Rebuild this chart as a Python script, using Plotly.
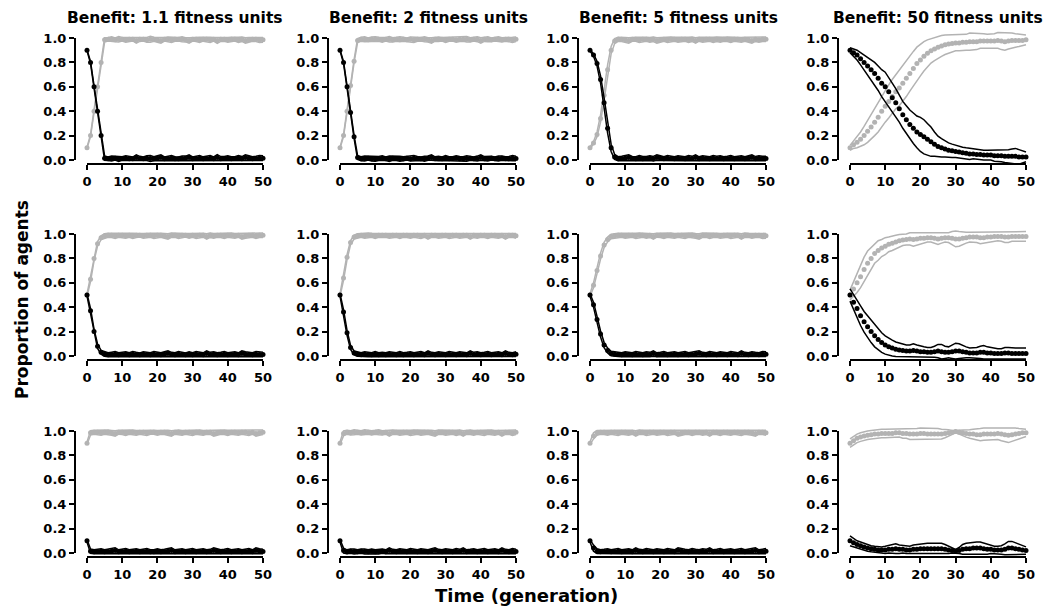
import plotly.graph_objects as go

# ---------------- data ----------------
t = list(range(51))
benefit_labels = ["1.1", "2", "5", "50"]
x_ticks = [0, 10, 20, 30, 40, 50]
y_ticks = [0.0, 0.2, 0.4, 0.6, 0.8, 1.0]
y_ticktext = ["0.0", "0.2", "0.4", "0.6", "0.8", "1.0"]

# Row 1: start 10% cooperators
coop_r1c1 = [0.10,0.20,0.40,0.60,0.80,0.985,0.99,0.99,0.985,0.99,
             0.99,0.985,0.99,0.99,0.98,0.99,0.99,0.985,0.99,0.99,
             0.985,0.98,0.99,0.99,0.985,0.99,0.99,0.99,0.985,0.98,
             0.99,0.99,0.985,0.99,0.99,0.985,0.99,0.98,0.99,0.99,
             0.985,0.99,0.99,0.985,0.99,0.98,0.985,0.99,0.99,0.985,
             0.985]
def_r1c1 = [0.90,0.80,0.60,0.40,0.20,0.015,0.01,0.012,0.015,0.01,
            0.012,0.015,0.01,0.01,0.02,0.012,0.01,0.015,0.012,0.01,
            0.015,0.02,0.01,0.012,0.015,0.01,0.01,0.012,0.015,0.02,
            0.01,0.012,0.015,0.01,0.012,0.015,0.01,0.02,0.01,0.012,
            0.015,0.01,0.012,0.015,0.01,0.02,0.015,0.01,0.012,0.015,
            0.015]
sd_r1c1 = [0.005,0.008,0.01,0.012,0.012,0.018,0.015,0.02,0.016,0.022,
           0.015,0.02,0.017,0.014,0.022,0.018,0.015,0.02,0.024,0.016,
           0.02,0.022,0.015,0.018,0.021,0.016,0.014,0.02,0.017,0.023,
           0.015,0.019,0.022,0.016,0.018,0.021,0.015,0.024,0.018,0.016,
           0.02,0.017,0.015,0.021,0.018,0.023,0.02,0.016,0.018,0.021,
           0.02]

coop_r1c2 = [0.10,0.20,0.40,0.61,0.81,0.98,0.99,0.99,0.985,0.99,
             0.99,0.99,0.985,0.99,0.99,0.985,0.99,0.99,0.99,0.985,
             0.99,0.985,0.99,0.99,0.99,0.985,0.98,0.99,0.99,0.99,
             0.985,0.99,0.99,0.985,0.99,0.99,0.99,0.985,0.99,0.99,
             0.98,0.99,0.99,0.985,0.99,0.99,0.985,0.99,0.99,0.985,
             0.99]
def_r1c2 = [0.90,0.80,0.60,0.39,0.19,0.02,0.01,0.012,0.015,0.01,
            0.01,0.012,0.015,0.01,0.01,0.015,0.012,0.01,0.01,0.015,
            0.01,0.015,0.012,0.01,0.01,0.015,0.02,0.01,0.012,0.01,
            0.015,0.01,0.012,0.015,0.01,0.01,0.012,0.015,0.01,0.012,
            0.02,0.01,0.012,0.015,0.01,0.012,0.015,0.01,0.01,0.015,
            0.012]
sd_r1c2 = [0.005,0.008,0.01,0.012,0.012,0.016,0.017,0.02,0.015,0.018,
           0.021,0.016,0.019,0.015,0.022,0.018,0.016,0.02,0.017,0.015,
           0.019,0.022,0.017,0.015,0.02,0.018,0.023,0.016,0.019,0.015,
           0.021,0.017,0.015,0.02,0.018,0.016,0.022,0.017,0.015,0.02,
           0.023,0.018,0.02,0.016,0.015,0.021,0.018,0.016,0.019,0.021,
           0.018]

coop_r1c3 = [0.10,0.14,0.21,0.34,0.53,0.74,0.90,0.975,0.99,0.99,
             0.985,0.98,0.99,0.99,0.985,0.99,0.99,0.985,0.99,0.98,
             0.985,0.99,0.985,0.99,0.99,0.985,0.99,0.99,0.985,0.99,
             0.98,0.99,0.985,0.99,0.99,0.985,0.99,0.985,0.99,0.99,
             0.985,0.99,0.99,0.985,0.99,0.985,0.98,0.99,0.985,0.99,
             0.99]
def_r1c3 = [0.90,0.86,0.79,0.66,0.47,0.26,0.10,0.025,0.01,0.012,
            0.015,0.02,0.012,0.01,0.015,0.01,0.012,0.015,0.01,0.02,
            0.015,0.01,0.015,0.012,0.01,0.015,0.012,0.01,0.015,0.012,
            0.02,0.01,0.015,0.012,0.01,0.015,0.012,0.015,0.01,0.012,
            0.015,0.01,0.012,0.015,0.01,0.015,0.02,0.01,0.015,0.012,
            0.012]
sd_r1c3 = [0.005,0.01,0.02,0.03,0.04,0.04,0.03,0.02,0.017,0.019,
           0.02,0.022,0.017,0.016,0.021,0.018,0.016,0.02,0.019,0.023,
           0.02,0.016,0.021,0.018,0.016,0.02,0.019,0.016,0.021,0.018,
           0.023,0.016,0.02,0.018,0.016,0.021,0.019,0.02,0.016,0.018,
           0.021,0.016,0.018,0.02,0.016,0.022,0.023,0.018,0.02,0.019,
           0.018]

coop_r1c4 = [0.10,0.125,0.145,0.17,0.20,0.235,0.27,0.31,0.35,0.40,
             0.44,0.48,0.52,0.56,0.59,0.63,0.67,0.71,0.75,0.79,
             0.82,0.85,0.875,0.895,0.91,0.925,0.935,0.945,0.95,0.955,
             0.96,0.96,0.965,0.965,0.97,0.97,0.97,0.975,0.975,0.975,
             0.975,0.975,0.98,0.975,0.97,0.975,0.98,0.98,0.98,0.98,
             0.985]
coop_sd_r1c4 = [0.02,0.03,0.045,0.06,0.075,0.09,0.10,0.11,0.12,0.125,
                0.13,0.135,0.14,0.14,0.145,0.15,0.15,0.145,0.14,0.135,
                0.13,0.12,0.11,0.10,0.095,0.09,0.085,0.08,0.075,0.07,
                0.065,0.065,0.065,0.065,0.07,0.07,0.065,0.06,0.06,0.055,
                0.055,0.06,0.065,0.07,0.07,0.065,0.06,0.055,0.05,0.045,
                0.04]
def_r1c4 = [0.90,0.88,0.86,0.83,0.80,0.77,0.74,0.71,0.67,0.63,
            0.60,0.56,0.51,0.47,0.42,0.37,0.33,0.29,0.26,0.23,
            0.21,0.19,0.17,0.15,0.13,0.11,0.10,0.09,0.08,0.075,
            0.07,0.065,0.06,0.055,0.05,0.05,0.045,0.045,0.04,0.04,
            0.04,0.035,0.035,0.035,0.03,0.03,0.03,0.03,0.025,0.025,
            0.025]
def_sd_r1c4 = [0.02,0.03,0.04,0.05,0.06,0.07,0.08,0.09,0.10,0.11,
               0.12,0.12,0.12,0.115,0.11,0.11,0.115,0.12,0.125,0.13,
               0.14,0.14,0.13,0.12,0.10,0.085,0.075,0.065,0.06,0.055,
               0.05,0.05,0.045,0.045,0.045,0.04,0.04,0.04,0.04,0.04,
               0.04,0.045,0.045,0.05,0.05,0.055,0.06,0.065,0.06,0.05,
               0.04]

# Row 2: start 50% cooperators
coop_r2c1 = [0.50,0.63,0.80,0.92,0.97,0.985,0.99,0.99,0.985,0.99,
             0.99,0.985,0.99,0.985,0.99,0.99,0.985,0.99,0.99,0.985,
             0.99,0.99,0.985,0.98,0.99,0.99,0.985,0.99,0.99,0.985,
             0.99,0.985,0.99,0.99,0.98,0.99,0.985,0.99,0.99,0.985,
             0.99,0.99,0.985,0.99,0.98,0.985,0.99,0.99,0.985,0.99,
             0.99]
def_r2c1 = [0.50,0.37,0.20,0.08,0.03,0.015,0.01,0.012,0.015,0.01,
            0.012,0.015,0.01,0.015,0.012,0.01,0.015,0.012,0.01,0.015,
            0.012,0.01,0.015,0.02,0.012,0.01,0.015,0.012,0.01,0.015,
            0.01,0.015,0.012,0.01,0.02,0.012,0.015,0.01,0.012,0.015,
            0.01,0.012,0.015,0.01,0.02,0.015,0.012,0.01,0.015,0.012,
            0.012]
sd_r2c1 = [0.01,0.02,0.02,0.018,0.016,0.018,0.016,0.019,0.021,0.016,
           0.018,0.02,0.016,0.021,0.018,0.015,0.02,0.018,0.016,0.021,
           0.018,0.016,0.02,0.023,0.018,0.016,0.021,0.018,0.015,0.02,
           0.016,0.021,0.018,0.016,0.023,0.018,0.02,0.016,0.018,0.021,
           0.016,0.018,0.02,0.016,0.023,0.02,0.018,0.016,0.021,0.018,
           0.018]

coop_r2c2 = [0.50,0.64,0.81,0.93,0.975,0.985,0.99,0.985,0.99,0.99,
             0.985,0.99,0.99,0.99,0.985,0.99,0.99,0.985,0.99,0.99,
             0.985,0.99,0.99,0.985,0.99,0.98,0.99,0.99,0.985,0.99,
             0.99,0.985,0.99,0.99,0.985,0.99,0.99,0.98,0.99,0.985,
             0.99,0.99,0.985,0.99,0.99,0.985,0.99,0.98,0.99,0.99,
             0.985]
def_r2c2 = [0.50,0.36,0.19,0.07,0.025,0.014,0.01,0.015,0.012,0.01,
            0.015,0.01,0.012,0.01,0.015,0.012,0.01,0.015,0.01,0.012,
            0.015,0.01,0.012,0.015,0.01,0.02,0.012,0.01,0.015,0.012,
            0.01,0.015,0.012,0.01,0.015,0.012,0.01,0.02,0.012,0.015,
            0.01,0.012,0.015,0.01,0.012,0.015,0.01,0.02,0.012,0.01,
            0.015]
sd_r2c2 = [0.01,0.02,0.02,0.017,0.016,0.017,0.016,0.02,0.018,0.016,
           0.021,0.016,0.018,0.016,0.02,0.018,0.016,0.021,0.016,0.018,
           0.02,0.016,0.018,0.021,0.016,0.023,0.018,0.016,0.02,0.018,
           0.016,0.021,0.018,0.016,0.02,0.018,0.016,0.023,0.018,0.02,
           0.016,0.018,0.021,0.016,0.018,0.02,0.016,0.023,0.018,0.016,
           0.02]

coop_r2c3 = [0.50,0.58,0.70,0.82,0.91,0.955,0.98,0.985,0.99,0.99,
             0.985,0.99,0.99,0.985,0.99,0.99,0.985,0.99,0.98,0.99,
             0.99,0.985,0.99,0.99,0.985,0.99,0.99,0.985,0.99,0.99,
             0.985,0.98,0.99,0.99,0.985,0.99,0.99,0.985,0.99,0.99,
             0.985,0.99,0.99,0.98,0.99,0.99,0.985,0.99,0.99,0.985,
             0.985]
def_r2c3 = [0.50,0.42,0.30,0.18,0.09,0.045,0.02,0.015,0.012,0.01,
            0.015,0.012,0.01,0.015,0.012,0.01,0.015,0.012,0.02,0.01,
            0.012,0.015,0.01,0.012,0.015,0.01,0.012,0.015,0.01,0.012,
            0.015,0.02,0.012,0.01,0.015,0.012,0.01,0.015,0.012,0.01,
            0.015,0.012,0.01,0.02,0.012,0.01,0.015,0.012,0.01,0.015,
            0.015]
sd_r2c3 = [0.01,0.02,0.025,0.025,0.022,0.02,0.018,0.018,0.017,0.016,
           0.02,0.018,0.016,0.021,0.018,0.016,0.02,0.018,0.022,0.016,
           0.018,0.021,0.016,0.018,0.02,0.016,0.018,0.021,0.016,0.018,
           0.02,0.023,0.018,0.016,0.021,0.018,0.016,0.02,0.018,0.016,
           0.021,0.018,0.016,0.023,0.018,0.016,0.02,0.018,0.016,0.021,
           0.02]

coop_r2c4 = [0.50,0.55,0.60,0.65,0.71,0.76,0.80,0.84,0.865,0.885,
             0.90,0.915,0.925,0.935,0.945,0.95,0.955,0.96,0.955,0.96,
             0.965,0.965,0.97,0.97,0.965,0.96,0.965,0.97,0.97,0.965,
             0.96,0.96,0.965,0.97,0.975,0.975,0.975,0.97,0.97,0.975,
             0.975,0.98,0.98,0.98,0.975,0.975,0.98,0.98,0.98,0.98,
             0.98]
coop_sd_r2c4 = [0.04,0.06,0.08,0.09,0.10,0.10,0.09,0.08,0.08,0.07,
                0.07,0.06,0.06,0.055,0.05,0.045,0.045,0.05,0.055,0.05,
                0.045,0.04,0.035,0.035,0.04,0.045,0.04,0.035,0.04,0.055,
                0.065,0.06,0.05,0.045,0.04,0.04,0.045,0.05,0.045,0.04,
                0.04,0.035,0.035,0.04,0.045,0.045,0.04,0.04,0.04,0.04,
                0.04]
def_r2c4 = [0.50,0.44,0.39,0.33,0.28,0.24,0.20,0.165,0.135,0.11,
            0.09,0.075,0.065,0.055,0.05,0.045,0.04,0.04,0.045,0.04,
            0.035,0.035,0.03,0.03,0.035,0.04,0.035,0.03,0.03,0.035,
            0.04,0.04,0.035,0.03,0.025,0.025,0.025,0.03,0.03,0.025,
            0.025,0.02,0.02,0.02,0.025,0.025,0.02,0.02,0.02,0.02,
            0.02]
def_sd_r2c4 = [0.05,0.06,0.07,0.08,0.085,0.09,0.09,0.09,0.085,0.08,
               0.075,0.07,0.065,0.06,0.055,0.05,0.05,0.05,0.055,0.05,
               0.045,0.04,0.04,0.04,0.045,0.055,0.06,0.05,0.045,0.055,
               0.065,0.06,0.05,0.045,0.04,0.04,0.045,0.05,0.055,0.05,
               0.045,0.04,0.04,0.04,0.045,0.045,0.045,0.045,0.045,0.045,
               0.045]

# Row 3: start 90% cooperators
coop_r3c1 = [0.90,0.985,0.99,0.99,0.985,0.99,0.99,0.985,0.98,0.99,
             0.99,0.985,0.99,0.99,0.985,0.99,0.99,0.985,0.99,0.99,
             0.985,0.99,0.99,0.985,0.98,0.99,0.99,0.985,0.99,0.99,
             0.985,0.99,0.99,0.985,0.99,0.99,0.98,0.985,0.99,0.99,
             0.985,0.99,0.99,0.985,0.99,0.99,0.985,0.99,0.98,0.985,
             0.99]
def_r3c1 = [0.10,0.015,0.01,0.012,0.015,0.01,0.012,0.015,0.02,0.01,
            0.012,0.015,0.01,0.012,0.015,0.01,0.012,0.015,0.01,0.01,
            0.015,0.01,0.012,0.015,0.02,0.01,0.012,0.015,0.01,0.012,
            0.015,0.01,0.012,0.015,0.01,0.012,0.02,0.015,0.01,0.012,
            0.015,0.01,0.012,0.015,0.01,0.012,0.015,0.01,0.02,0.015,
            0.012]
sd_r3c1 = [0.01,0.018,0.016,0.018,0.02,0.016,0.018,0.02,0.022,0.016,
           0.018,0.021,0.016,0.018,0.02,0.016,0.018,0.021,0.016,0.016,
           0.02,0.016,0.018,0.021,0.023,0.016,0.018,0.02,0.016,0.018,
           0.021,0.016,0.018,0.02,0.016,0.018,0.023,0.02,0.016,0.018,
           0.021,0.016,0.018,0.02,0.016,0.018,0.021,0.016,0.023,0.02,
           0.018]

coop_r3c2 = [0.90,0.98,0.99,0.985,0.99,0.99,0.985,0.99,0.99,0.985,
             0.99,0.99,0.985,0.99,0.98,0.99,0.99,0.985,0.99,0.99,
             0.985,0.99,0.99,0.985,0.99,0.99,0.985,0.98,0.99,0.99,
             0.985,0.99,0.99,0.985,0.99,0.98,0.99,0.99,0.985,0.99,
             0.99,0.985,0.99,0.99,0.985,0.99,0.98,0.99,0.99,0.985,
             0.99]
def_r3c2 = [0.10,0.02,0.01,0.015,0.012,0.01,0.015,0.012,0.01,0.015,
            0.01,0.012,0.015,0.01,0.02,0.012,0.01,0.015,0.012,0.01,
            0.015,0.012,0.01,0.015,0.012,0.01,0.015,0.02,0.012,0.01,
            0.015,0.012,0.01,0.015,0.012,0.02,0.01,0.012,0.015,0.01,
            0.012,0.015,0.01,0.012,0.015,0.01,0.02,0.012,0.01,0.015,
            0.012]
sd_r3c2 = [0.01,0.02,0.016,0.018,0.02,0.016,0.018,0.021,0.016,0.018,
           0.016,0.02,0.018,0.016,0.023,0.018,0.016,0.02,0.018,0.016,
           0.021,0.018,0.016,0.02,0.018,0.016,0.021,0.023,0.018,0.016,
           0.02,0.018,0.016,0.021,0.018,0.023,0.016,0.018,0.02,0.016,
           0.018,0.021,0.016,0.018,0.02,0.016,0.023,0.018,0.016,0.021,
           0.018]

coop_r3c3 = [0.90,0.96,0.985,0.99,0.99,0.985,0.99,0.99,0.985,0.99,
             0.99,0.985,0.99,0.98,0.99,0.99,0.985,0.99,0.99,0.985,
             0.99,0.99,0.985,0.99,0.99,0.98,0.985,0.99,0.99,0.985,
             0.99,0.99,0.985,0.99,0.98,0.99,0.99,0.985,0.99,0.99,
             0.985,0.99,0.99,0.985,0.99,0.99,0.985,0.98,0.99,0.99,
             0.985]
def_r3c3 = [0.10,0.04,0.015,0.01,0.012,0.015,0.01,0.012,0.015,0.01,
            0.012,0.015,0.01,0.02,0.012,0.01,0.015,0.012,0.01,0.015,
            0.012,0.01,0.015,0.012,0.01,0.02,0.015,0.012,0.01,0.015,
            0.012,0.01,0.015,0.012,0.02,0.01,0.012,0.015,0.01,0.012,
            0.015,0.01,0.012,0.015,0.01,0.012,0.015,0.02,0.01,0.012,
            0.015]
sd_r3c3 = [0.01,0.025,0.02,0.016,0.018,0.02,0.016,0.018,0.021,0.016,
           0.018,0.02,0.016,0.023,0.018,0.016,0.021,0.018,0.016,0.02,
           0.018,0.016,0.021,0.018,0.016,0.023,0.02,0.018,0.016,0.021,
           0.018,0.016,0.02,0.018,0.023,0.016,0.018,0.021,0.016,0.018,
           0.02,0.016,0.018,0.021,0.016,0.018,0.02,0.023,0.016,0.018,
           0.021]

coop_r3c4 = [0.90,0.92,0.94,0.95,0.96,0.965,0.97,0.975,0.975,0.98,
             0.98,0.98,0.98,0.985,0.985,0.98,0.98,0.975,0.975,0.975,
             0.98,0.98,0.975,0.975,0.975,0.975,0.975,0.98,0.985,0.99,
             0.995,0.99,0.985,0.98,0.975,0.975,0.97,0.97,0.975,0.975,
             0.975,0.975,0.98,0.975,0.97,0.965,0.97,0.975,0.98,0.985,
             0.985]
coop_sd_r3c4 = [0.035,0.035,0.035,0.035,0.035,0.035,0.035,0.035,0.035,0.035,
                0.035,0.035,0.035,0.035,0.035,0.04,0.04,0.045,0.045,0.045,
                0.045,0.045,0.045,0.045,0.045,0.045,0.04,0.035,0.025,0.015,
                0.01,0.015,0.025,0.03,0.035,0.04,0.045,0.05,0.05,0.05,
                0.05,0.05,0.05,0.055,0.06,0.06,0.055,0.05,0.04,0.035,
                0.03]
def_r3c4 = [0.10,0.085,0.07,0.06,0.05,0.04,0.035,0.03,0.025,0.025,
            0.025,0.03,0.03,0.035,0.03,0.03,0.025,0.025,0.03,0.03,
            0.035,0.035,0.035,0.035,0.035,0.035,0.035,0.03,0.025,0.02,
            0.015,0.02,0.03,0.035,0.035,0.04,0.04,0.04,0.035,0.03,
            0.03,0.025,0.025,0.025,0.03,0.04,0.04,0.035,0.03,0.025,
            0.02]
def_sd_r3c4 = [0.04,0.035,0.03,0.03,0.03,0.025,0.025,0.025,0.025,0.025,
               0.03,0.03,0.035,0.04,0.035,0.03,0.03,0.03,0.035,0.04,
               0.04,0.045,0.045,0.045,0.045,0.045,0.045,0.04,0.03,0.02,
               0.015,0.025,0.04,0.045,0.05,0.05,0.05,0.05,0.045,0.04,
               0.035,0.03,0.03,0.035,0.045,0.055,0.055,0.05,0.04,0.035,
               0.03]

# (row, col, coop mean, coop sd, defector mean, defector sd)
panels = [
    (0, 0, coop_r1c1, sd_r1c1, def_r1c1, sd_r1c1),
    (0, 1, coop_r1c2, sd_r1c2, def_r1c2, sd_r1c2),
    (0, 2, coop_r1c3, sd_r1c3, def_r1c3, sd_r1c3),
    (0, 3, coop_r1c4, coop_sd_r1c4, def_r1c4, def_sd_r1c4),
    (1, 0, coop_r2c1, sd_r2c1, def_r2c1, sd_r2c1),
    (1, 1, coop_r2c2, sd_r2c2, def_r2c2, sd_r2c2),
    (1, 2, coop_r2c3, sd_r2c3, def_r2c3, sd_r2c3),
    (1, 3, coop_r2c4, coop_sd_r2c4, def_r2c4, def_sd_r2c4),
    (2, 0, coop_r3c1, sd_r3c1, def_r3c1, sd_r3c1),
    (2, 1, coop_r3c2, sd_r3c2, def_r3c2, sd_r3c2),
    (2, 2, coop_r3c3, sd_r3c3, def_r3c3, sd_r3c3),
    (2, 3, coop_r3c4, coop_sd_r3c4, def_r3c4, def_sd_r3c4),
]
for p in panels:
    for arr in p[2:]:
        assert len(arr) == 51, len(arr)

# ---------------- layout geometry (pixels) ----------------
W, H = 1055, 615
COL_X0 = [87, 340, 590, 850]     # pixel of t = 0
XLEN = 176                       # pixels for 0..50
ROW_Y1 = [38, 234, 431]          # pixel of y = 1.0
YLEN = 122                       # pixels for 0..1
XPAD, YPAD = 3.0, 0.08           # extra data range (data units)
YAXIS_OFF = 12                   # y-axis line left of t=0
XAXIS_OFF = 4                    # x-axis line below y=0

GRAY = "#b3b3b3"
BLACK = "#000000"
FONT = "DejaVu Sans"
tickfont = dict(family=FONT, size=13, color="black", weight="bold")

fig = go.Figure()
layout = {}
n_pan = len(panels)


def axname(kind, i):
    return kind if i == 1 else f"{kind}{i}"


for i, (r, c, cm, cs, dm, ds) in enumerate(panels):
    di = i + 1            # data axes
    vi = i + 1 + n_pan    # visible (display) axes
    x0 = COL_X0[c]
    y1 = ROW_Y1[r]
    y0 = y1 + YLEN
    pxx = XLEN / 50.0
    dom_x = [(x0 - XPAD * pxx) / W, (x0 + XLEN + XPAD * pxx) / W]
    dom_y = [1 - (y0 + YPAD * YLEN) / H, 1 - (y1 - YPAD * YLEN) / H]
    layout[axname("xaxis", di)] = dict(domain=dom_x, range=[-XPAD, 50 + XPAD],
                                       visible=False, anchor=axname("y", di))
    layout[axname("yaxis", di)] = dict(domain=dom_y, range=[-YPAD, 1 + YPAD],
                                       visible=False, anchor=axname("x", di))
    xa, ya = axname("x", di), axname("y", di)

    for mean, sd, col in ((cm, cs, GRAY), (dm, ds, BLACK)):
        upper = [m + s for m, s in zip(mean, sd)]
        lower = [m - s for m, s in zip(mean, sd)]
        for band in (upper, lower):
            fig.add_trace(go.Scatter(x=t, y=band, mode="lines", xaxis=xa, yaxis=ya,
                                     line=dict(color=col, width=1.5),
                                     hoverinfo="skip", showlegend=False))
        fig.add_trace(go.Scatter(x=t, y=mean, mode="markers", xaxis=xa, yaxis=ya,
                                 marker=dict(color=col, size=5),
                                 hoverinfo="skip", showlegend=False, cliponaxis=False))

    # display axes (bracket-style, offset)
    vdom_x = [x0 / W, (x0 + XLEN) / W]
    vdom_y = [1 - y0 / H, 1 - y1 / H]
    layout[axname("xaxis", vi)] = dict(
        domain=vdom_x, range=[0, 50], anchor="free",
        position=1 - (y0 + XAXIS_OFF) / H,
        showline=True, linecolor="black", linewidth=2,
        ticks="outside", ticklen=5, tickwidth=2, tickcolor="black",
        tickvals=x_ticks, tickfont=tickfont, showgrid=False, zeroline=False,
        fixedrange=True)
    layout[axname("yaxis", vi)] = dict(
        domain=vdom_y, range=[0, 1], anchor="free",
        position=(x0 - YAXIS_OFF) / W,
        showline=True, linecolor="black", linewidth=2,
        ticks="outside", ticklen=5, tickwidth=2, tickcolor="black",
        tickvals=y_ticks, ticktext=y_ticktext, tickfont=tickfont,
        showgrid=False, zeroline=False, fixedrange=True)
    fig.add_trace(go.Scatter(x=[], y=[], xaxis=axname("x", vi), yaxis=axname("y", vi),
                             mode="markers", showlegend=False, hoverinfo="skip"))

annotations = []
for c, lab in enumerate(benefit_labels):
    annotations.append(dict(
        text=f"Benefit: {lab} fitness units", xref="paper", yref="paper",
        x=(COL_X0[c] + XLEN / 2) / W, y=1 - 18 / H, xanchor="center", yanchor="middle",
        showarrow=False, font=dict(family=FONT, size=15.5, color="black", weight="bold")))
annotations.append(dict(
    text="Proportion of agents", xref="paper", yref="paper",
    x=22 / W, y=1 - 300 / H, textangle=-90, xanchor="center", yanchor="middle",
    showarrow=False, font=dict(family=FONT, size=17, color="black", weight="bold")))
annotations.append(dict(
    text="Time (generation)", xref="paper", yref="paper",
    x=526 / W, y=1 - 595 / H, xanchor="center", yanchor="middle",
    showarrow=False, font=dict(family=FONT, size=18, color="black", weight="bold")))

fig.update_layout(
    width=W, height=H, margin=dict(l=0, r=0, t=0, b=0, autoexpand=False),
    paper_bgcolor="white", plot_bgcolor="rgba(0,0,0,0)", showlegend=False,
    hovermode=False, annotations=annotations, **layout)

fig.write_html("out.html")
